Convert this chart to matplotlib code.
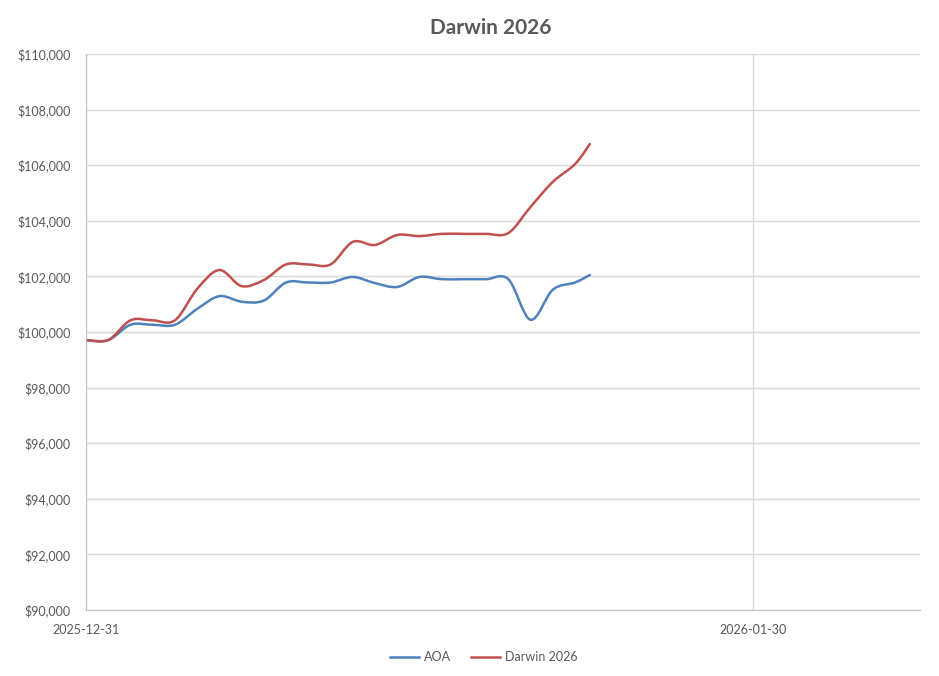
import matplotlib.pyplot as plt
import matplotlib.dates as mdates
from matplotlib.path import Path
from matplotlib.patches import PathPatch
from matplotlib.lines import Line2D
from matplotlib.ticker import FuncFormatter
import numpy as np
import pandas as pd

# daily values (weekends / holidays carry the last close), last point is intraday
dates = list(pd.date_range("2025-12-31", "2026-01-22", freq="D")) + [pd.Timestamp("2026-01-22 16:00")]
aoa = [99710, 99710, 100260, 100260, 100260, 100830, 101290, 101090, 101130,
       101780, 101780, 101780, 101980, 101760, 101620, 101980, 101900, 101900,
       101900, 101900, 100440, 101520, 101780, 102050]
darwin = [99710, 99710, 100420, 100420, 100420, 101550, 102230, 101650, 101870,
          102430, 102430, 102430, 103240, 103130, 103490, 103450, 103530, 103530,
          103530, 103560, 104500, 105400, 106040, 106760]
names = ["AOA", "Darwin 2026"]
colors = ["#4f81bd", "#c0504d"]
yticks = list(range(90000, 110001, 2000))
xticks = ["2025-12-31", "2026-01-30"]

plt.rcParams['font.family'] = ['Lato', 'DejaVu Sans']
grey = "#595959"


def smooth_path(x, y):
    # excel-like smoothed line: bezier segments through every point
    pts = np.column_stack([x, y])
    n = len(pts)
    verts = [pts[0]]
    codes = [Path.MOVETO]
    for i in range(n - 1):
        p0 = pts[max(i - 1, 0)]
        p1 = pts[i]
        p2 = pts[i + 1]
        p3 = pts[min(i + 2, n - 1)]
        c1 = p1 + (p2 - p0) / 6.0
        c2 = p2 - (p3 - p1) / 6.0
        verts += [c1, c2, p2]
        codes += [Path.CURVE4] * 3
    return Path(verts, codes)


fig = plt.figure(figsize=(9.39, 6.76), dpi=100)
ax = fig.add_axes([86 / 939, 1 - 610 / 676, (920 - 86) / 939, (610 - 54) / 676])

xnum = mdates.date2num(dates)
for vals, c in zip([aoa, darwin], colors):
    ax.add_patch(PathPatch(smooth_path(xnum, np.array(vals, float)), fill=False,
                           edgecolor=c, lw=1.8, capstyle='round', joinstyle='round'))

x0 = mdates.date2num(pd.Timestamp("2025-12-31"))
ax.set_xlim(x0, x0 + 37.52)
ax.set_ylim(90000, 110000)

ax.set_yticks(yticks)
ax.yaxis.set_major_formatter(FuncFormatter(lambda v, p: "${:,.0f}".format(v)))
ax.set_xticks(mdates.date2num([pd.Timestamp(t) for t in xticks]))
ax.set_xticklabels(xticks)
ax.tick_params(length=0, labelsize=9, labelcolor=grey)
ax.tick_params(axis='y', pad=11)
ax.tick_params(axis='x', pad=10)

ax.grid(True, color="#d9d9d9", lw=1)
ax.set_axisbelow(True)
for s in ["top", "right"]:
    ax.spines[s].set_visible(False)
ax.spines["left"].set_color("#bfbfbf")
ax.spines["bottom"].set_color("#bfbfbf")

fig.text(491 / 939, 1 - 28 / 676, "Darwin 2026", ha="center", va="center",
         fontsize=15, fontweight="bold", color=grey)

handles = [Line2D([], [], color=c, lw=1.8) for c in colors]
fig.legend(handles, names, loc="center", bbox_to_anchor=(484 / 939, 1 - 657 / 676),
           ncol=2, frameon=False, fontsize=9, labelcolor=grey,
           handlelength=2.3, handletextpad=0.4, columnspacing=1.6)

fig.savefig("out.png", dpi=100)
